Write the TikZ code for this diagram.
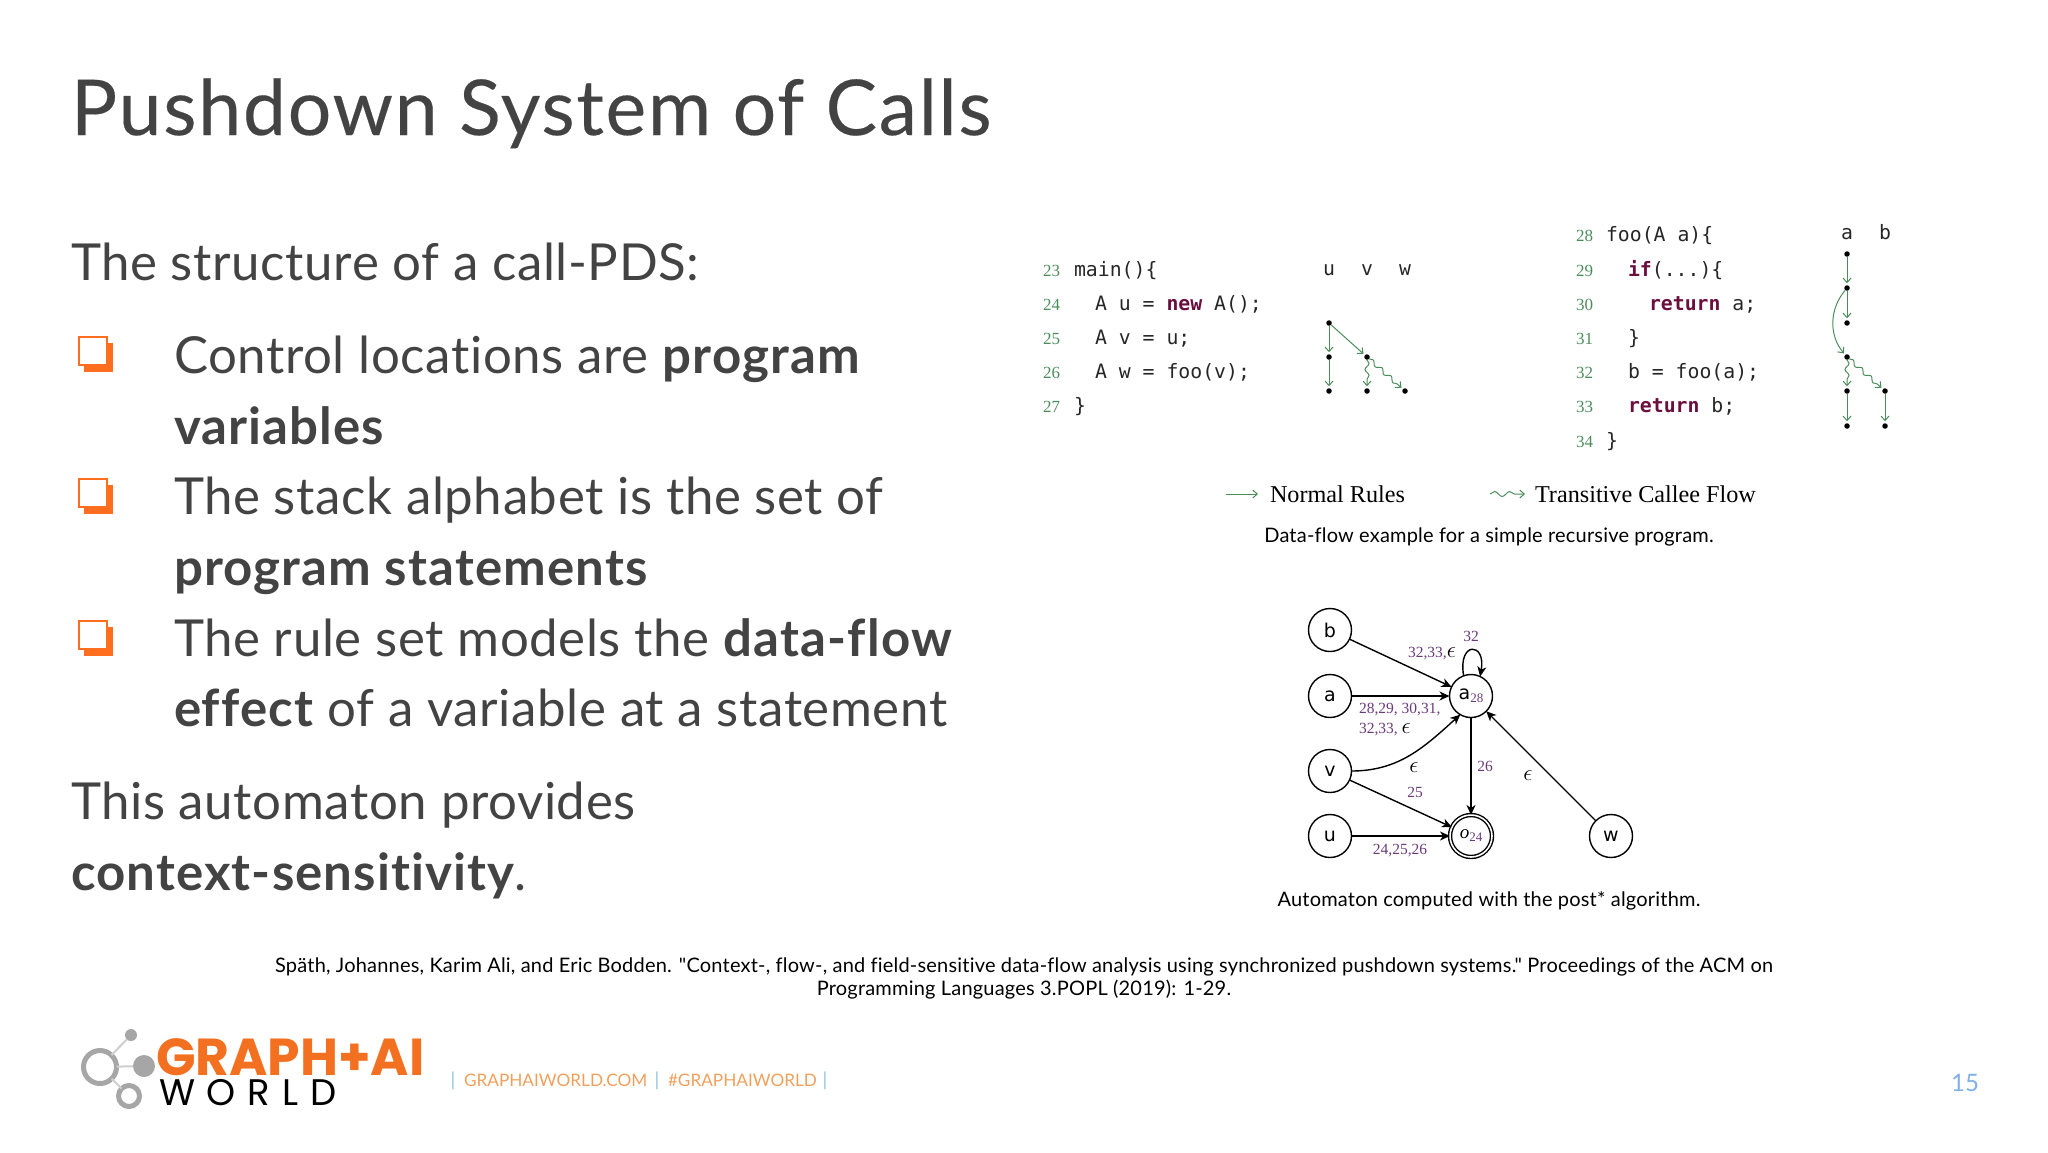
\documentclass[tikz,border=0pt]{standalone}
\usepackage{xcolor}
\usepackage{fontspec}
\usepackage{amssymb,amsmath}
\usetikzlibrary{arrows.meta,decorations.pathmorphing}
\setmainfont{Lato}
\newfontfamily\bodyfont[LetterSpace=1.2,Ligatures=NoCommon,BoldFeatures={LetterSpace=2.2}]{Lato}
\newfontfamily\titlefont[LetterSpace=2.2,Ligatures=NoCommon,FakeBold=0.25]{Lato}
\newfontfamily\capfont[LetterSpace=1.0,Ligatures=NoCommon]{Lato}
\newfontfamily\codefont{DejaVu Sans Mono}
\newfontfamily\numfont{Liberation Serif}
\newfontfamily\logofont{Poppins}
\newfontfamily\logospaced[LetterSpace=32]{Poppins}
\newfontfamily\statefont{DejaVu Sans}
\definecolor{textgray}{HTML}{434343}
\definecolor{accent}{HTML}{FF6D1F}
\definecolor{flowgreen}{HTML}{4C8C5C}
\definecolor{linegreen}{HTML}{4C8C5C}
\definecolor{keyred}{HTML}{6B0F3F}
\definecolor{labelpurple}{HTML}{6B3A7A}
\definecolor{logoorange}{HTML}{F37021}
\definecolor{logogray}{HTML}{A6A6A6}
\definecolor{footorange}{HTML}{F0A05C}
\definecolor{footblue}{HTML}{8FC4E4}
\newcommand{\kw}[1]{{\bfseries\color{keyred}#1}}
\newcommand{\eps}{{\color{black}\scalebox{1.6}{$\epsilon$}}}
\newcommand{\fs}[1]{\fontsize{#1}{#1}\selectfont}
\begin{document}
\begin{tikzpicture}[x=1pt,y=-1pt,
  every node/.style={inner sep=0pt,outer sep=0pt},
  body/.style={anchor=base west,text=textgray,font=\bodyfont\fs{51}},
  bulletback/.style={rectangle,fill=accent,minimum size=29pt},
  bulletfront/.style={rectangle,draw=accent,line width=2pt,fill=white,minimum size=28pt},
  code/.style={anchor=base west,text=black!85,font=\codefont\fs{19.8}},
  colname/.style={anchor=base,text=black!85,font=\codefont\fs{19.8}},
  lineno/.style={anchor=base west,text=linegreen,font=\numfont\fs{17}},
  dot/.style={circle,fill=black,minimum size=5.5pt},
  flow/.style={->,>={Straight Barb[length=4.5pt,width=8pt]},draw=flowgreen,line width=1pt,shorten >=2pt},
  callee/.style={flow,decorate,decoration={snake,amplitude=2pt,segment length=12pt,post length=5pt}},
  caption/.style={anchor=base,text=black,font=\capfont\fs{20}},
  legend/.style={anchor=base west,text=black,font=\numfont\fs{24.2}},
  state/.style={circle,draw=black,line width=1.4pt,minimum size=43pt,font=\statefont\fs{19}},
  trans/.style={->,>={Stealth[length=10pt,width=9pt,inset=3pt]},draw=black,line width=1.4pt},
  rule/.style={anchor=base,text=labelpurple,font=\numfont\fs{15.5}},
  foot/.style={anchor=base west,text=footorange,font=\fs{17.2}},
  bar/.style={anchor=base,text=footblue,font=\fs{19}},
  logoline/.style={draw=logogray!55,line width=2pt},
  ring/.style={circle,draw=logogray,line width=5pt,fill=white}]
  \useasboundingbox (0,0) rectangle (2048,1152);

  \node[anchor=base west,text=textgray,font=\titlefont\fs{77}] (title) at (71,135) {Pushdown System of Calls};
  \node[body] (intro) at (71,280) {The structure of a call-PDS:};
  \foreach \y in {336,478,620} {
    \node[bulletback] (shadow\y) at (98.5,\y+21) {};
    \node[bulletfront] (bullet\y) at (93,\y+14.5) {};
  }
  \node[body] (b1a) at (174,373) {Control locations are \textbf{program}};
  \node[body] (b1b) at (174,444) {\textbf{variables}};
  \node[body] (b2a) at (174,514) {The stack alphabet is the set of};
  \node[body] (b2b) at (174,585) {\textbf{program statements}};
  \node[body] (b3a) at (174,656) {The rule set models the \textbf{data-flow}};
  \node[body] (b3b) at (174,726) {\textbf{effect} of a variable at a statement};
  \node[body] (end1) at (71,819) {This automaton provides};
  \node[body] (end2) at (71,890) {\textbf{context-sensitivity}.};

  \foreach \n/\y in {23/276,24/310,25/344,26/378,27/412}
    \node[lineno] (num\n) at (1043,\y) {\n};
  \node[code] (main) at (1074,276) {main()\{};
  \node[code] (c24) at (1095,310) {A u = \kw{new} A();};
  \node[code] (c25) at (1095,344) {A v = u;};
  \node[code] (c26) at (1095,378) {A w = foo(v);};
  \node[code] (c27) at (1074,412) {\}};

  \foreach \n/\y in {28/241,29/276,30/310,31/344,32/378,33/412,34/447}
    \node[lineno] (num\n) at (1576,\y) {\n};
  \node[code] (c28) at (1606,241) {foo(A a)\{};
  \node[code] (c29) at (1628,276) {\kw{if}(...)\{};
  \node[code] (c30) at (1649,310) {\kw{return} a;};
  \node[code] (c31) at (1628,344) {\}};
  \node[code] (c32) at (1628,378) {b = foo(a);};
  \node[code] (c33) at (1628,412) {\kw{return} b;};
  \node[code] (c34) at (1606,447) {\}};

  \node[colname] (nu) at (1329,275) {u};
  \node[colname] (nv) at (1367,275) {v};
  \node[colname] (nw) at (1405,275) {w};
  \node[dot] (u1) at (1329,323) {};
  \node[dot] (u2) at (1329,357) {};
  \node[dot] (u3) at (1329,391) {};
  \node[dot] (v2) at (1367,357) {};
  \node[dot] (v3) at (1367,391) {};
  \node[dot] (w3) at (1405,391) {};
  \path
    (u1) edge [flow] (u2)
    (u2) edge [flow] (u3)
    (u1) edge [flow] (v2)
    (v2) edge [callee] (v3)
    (v2) edge [callee] (w3);

  \node[colname] (na) at (1847,239) {a};
  \node[colname] (nb) at (1885,239) {b};
  \node[dot] (a1) at (1847,254) {};
  \node[dot] (a2) at (1847,288) {};
  \node[dot] (a3) at (1847,323) {};
  \node[dot] (a4) at (1847,357) {};
  \node[dot] (a5) at (1847,391) {};
  \node[dot] (a6) at (1847,426) {};
  \node[dot] (b5) at (1885,391) {};
  \node[dot] (b6) at (1885,426) {};
  \path
    (a1) edge [flow] (a2)
    (a2) edge [flow] (a3)
    (a2) edge [flow,bend right=40] (a4)
    (a4) edge [callee] (a5)
    (a4) edge [callee] (b5)
    (a5) edge [flow] (a6)
    (b5) edge [flow] (b6);

  \coordinate (nrs) at (1226,494);
  \coordinate (nrt) at (1260,494);
  \coordinate (tcs) at (1490,494);
  \coordinate (tct) at (1527,494);
  \draw[flow] (nrs) -- (nrt);
  \draw[callee,decoration={snake,amplitude=2.5pt,segment length=15pt,post length=12pt}] (tcs) -- (tct);
  \node[legend] (normal) at (1270,502) {Normal Rules};
  \node[legend] (transitive) at (1535,502) {Transitive Callee Flow};
  \node[caption] (cap1) at (1489,542) {Data-flow example for a simple recursive program.};

  \node[state] (b) at (1330,630) {b};
  \node[state] (a) at (1330,696) {a};
  \node[state] (v) at (1330,771) {v};
  \node[state] (u) at (1330,836) {u};
  \node[state] (w) at (1611,836) {w};
  \node[state] (a28) at (1471,696) {a{\numfont\fs{13}\color{labelpurple}\raisebox{-3pt}{28}}};
  \node[state,double,double distance=1.6pt,minimum size=42pt] (o24) at (1471,836)
    {{\numfont\itshape\fs{19}o}{\numfont\fs{13}\color{labelpurple}\raisebox{-3pt}{24}}};
  \path
    (b) edge [trans] (a28)
    (a) edge [trans] (a28)
    (v) edge [trans,out=0,in=222] (a28.240)
    (v) edge [trans] (o24)
    (u) edge [trans] (o24)
    (a28) edge [trans] (o24)
    (w) edge [trans] (a28)
    (a28.110) edge [trans,out=100,in=80,looseness=5.5] (a28.65);
  \node[rule] (l32) at (1471,641) {32};
  \node[rule] (l3233) at (1432,657) {32,33,\eps};
  \node[rule,anchor=base west] (l28) at (1359,713) {28,29, 30,31,};
  \node[rule,anchor=base west] (l32e) at (1359,733) {32,33, \eps};
  \node[rule] (leps1) at (1414,772) {\eps};
  \node[rule] (l25) at (1415,797) {25};
  \node[rule] (l26) at (1485,771) {26};
  \node[rule] (leps2) at (1528,780) {\eps};
  \node[rule] (l24) at (1400,854) {24,25,26};
  \node[caption] (cap2) at (1489,906) {Automaton computed with the post* algorithm.};

  \node[caption] (cite1) at (1024,972) {Späth, Johannes, Karim Ali, and Eric Bodden. "Context-, flow-, and field-sensitive data-flow analysis using synchronized pushdown systems." Proceedings of the ACM on};
  \node[caption] (cite2) at (1024,995) {Programming Languages 3.POPL (2019): 1-29.};

  \node[ring,minimum size=33pt] (ringl) at (100,1067) {};
  \node[circle,fill=logogray,minimum size=12pt] (ntop) at (131,1035) {};
  \node[circle,fill=logogray,minimum size=22pt] (nmid) at (144,1066) {};
  \node[ring,minimum size=21pt] (ringb) at (129,1096) {};
  \draw[logoline] (ringl) -- (ntop);
  \draw[logoline] (ringl) -- (nmid);
  \draw[logoline] (ringl) -- (ringb);
  \node[anchor=base west,text=logoorange,font=\logofont\bfseries\fs{52}] (graphai) at (156,1075) {GRAPH+AI};
  \node[anchor=base west,text=black,font=\logospaced\fs{37}] (world) at (159,1105) {WORLD};

  \node[bar] (bar1) at (453,1086) {|};
  \node[foot] (site) at (464,1086) {GRAPHAIWORLD.COM};
  \node[bar] (bar2) at (657,1086) {|};
  \node[foot] (tag) at (668,1086) {\#GRAPHAIWORLD};
  \node[bar] (bar3) at (825,1086) {|};
  \node[anchor=base,text=footblue!90!blue,font=\fs{24}] (page) at (1965,1091) {15};
\end{tikzpicture}
\end{document}
